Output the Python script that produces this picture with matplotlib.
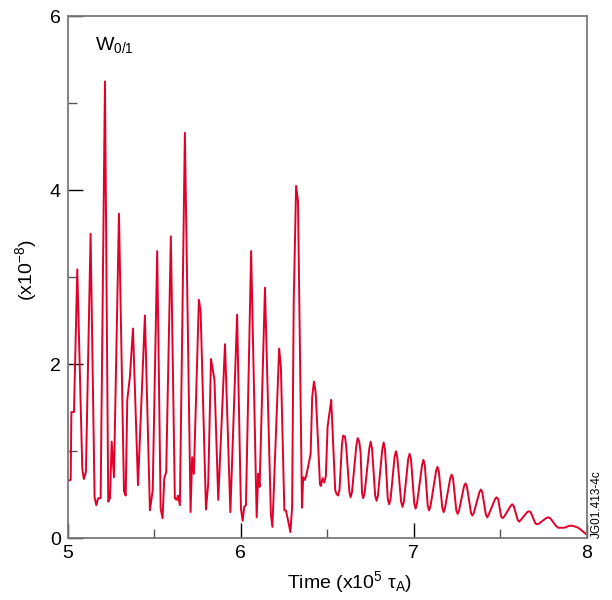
import matplotlib
matplotlib.use("Agg")
import matplotlib.pyplot as plt
from matplotlib.ticker import MultipleLocator

plt.rcParams['font.family'] = ['Liberation Sans', 'DejaVu Sans']
plt.rcParams['mathtext.fontset'] = 'custom'
plt.rcParams['mathtext.rm'] = 'Liberation Sans'
plt.rcParams['mathtext.it'] = 'Liberation Sans:italic'

# Time (x10^5 tau_A) -- bursty early phase
time_early = [5.000, 5.016, 5.020, 5.035, 5.054, 5.083, 5.092, 5.104, 5.131, 5.154,
              5.164, 5.175, 5.189, 5.214, 5.233, 5.243, 5.253, 5.266, 5.295, 5.324,
              5.334, 5.343, 5.358, 5.376, 5.405, 5.445, 5.474, 5.490, 5.516, 5.536,
              5.547, 5.557, 5.568, 5.595, 5.618, 5.628, 5.636, 5.647, 5.676, 5.709,
              5.718, 5.728, 5.757, 5.767, 5.798, 5.811, 5.827, 5.847, 5.869, 5.908,
              5.939, 5.978, 6.000, 6.010, 6.019, 6.029, 6.059, 6.091, 6.100, 6.108,
              6.139, 6.173, 6.182, 6.221, 6.231, 6.251, 6.260, 6.275, 6.286, 6.296,
              6.305, 6.319, 6.330, 6.353, 6.360, 6.370, 6.380, 6.403, 6.412, 6.422,
              6.432, 6.457, 6.462, 6.472, 6.482, 6.491, 6.501, 6.522]
w01_early = [0.66, 0.67, 1.45, 1.45, 3.09, 0.80, 0.68, 0.76, 3.50, 0.47,
             0.38, 0.46, 0.46, 5.25, 0.42, 0.46, 1.11, 0.70, 3.73, 0.54,
             0.49, 1.59, 1.85, 2.41, 0.61, 2.56, 0.32, 0.55, 3.30, 0.34,
             0.23, 0.69, 0.76, 3.47, 0.46, 0.44, 0.49, 0.38, 4.66, 0.30,
             0.93, 0.74, 2.74, 2.61, 0.33, 0.63, 2.06, 1.82, 0.44, 2.23,
             0.30, 2.57, 0.34, 0.20, 0.36, 0.38, 3.30, 0.24, 0.74, 0.59,
             2.88, 0.28, 0.13, 2.18, 1.97, 0.32, 0.32, 0.18, 0.07, 0.36,
             2.70, 4.05, 3.87, 0.35, 0.70, 0.67, 0.74, 0.97, 1.62, 1.80,
             1.68, 0.62, 0.60, 0.69, 0.64, 0.72, 1.28, 1.59]

# Time (x10^5 tau_A) -- decaying oscillation tail
time_tail = [6.545, 6.553, 6.562, 6.570, 6.584, 6.591, 6.601, 6.608,
             6.627, 6.634, 6.642, 6.667, 6.675, 6.684, 6.692,
             6.700, 6.707, 6.715, 6.742, 6.750, 6.758,
             6.776, 6.784, 6.792, 6.817, 6.825, 6.833,
             6.849, 6.857, 6.865, 6.888, 6.896, 6.904,
             6.926, 6.934, 6.942, 6.967, 6.975, 6.983,
             7.002, 7.010, 7.018, 7.047, 7.055, 7.063,
             7.080, 7.088, 7.096, 7.128, 7.136, 7.144,
             7.164, 7.172, 7.180, 7.210, 7.218, 7.226,
             7.245, 7.253, 7.261, 7.290, 7.298, 7.306,
             7.330, 7.338, 7.346, 7.379, 7.387, 7.395,
             7.416, 7.424, 7.432, 7.469, 7.478, 7.487,
             7.504, 7.513, 7.522, 7.559, 7.568, 7.577,
             7.600, 7.609, 7.618, 7.655, 7.665, 7.675,
             7.702, 7.713, 7.724, 7.764, 7.776, 7.788,
             7.822, 7.834, 7.846, 7.870, 7.895, 7.912, 7.930,
             7.950, 7.975, 7.994]
w01_tail = [0.55, 0.51, 0.49, 0.56, 1.08, 1.18, 1.17, 1.07,
            0.53, 0.47, 0.53, 1.06, 1.15, 1.11, 0.98,
            0.52, 0.46, 0.52, 1.03, 1.11, 1.03,
            0.49, 0.43, 0.49, 1.02, 1.10, 1.02,
            0.45, 0.39, 0.45, 0.93, 1.00, 0.93,
            0.42, 0.36, 0.42, 0.91, 0.97, 0.91,
            0.40, 0.34, 0.40, 0.84, 0.90, 0.84,
            0.37, 0.32, 0.37, 0.77, 0.82, 0.77,
            0.35, 0.30, 0.35, 0.69, 0.73, 0.69,
            0.32, 0.28, 0.32, 0.60, 0.63, 0.60,
            0.29, 0.26, 0.29, 0.53, 0.56, 0.53,
            0.27, 0.24, 0.27, 0.45, 0.47, 0.45,
            0.25, 0.23, 0.25, 0.37, 0.39, 0.37,
            0.21, 0.19, 0.21, 0.30, 0.31, 0.30,
            0.17, 0.16, 0.17, 0.23, 0.24, 0.23,
            0.14, 0.12, 0.12, 0.12, 0.14, 0.145, 0.135,
            0.12, 0.08, 0.05]

time = time_early + time_tail
w01 = w01_early + w01_tail

xticks = [5, 6, 7, 8]
yticks = [0, 2, 4, 6]

fig = plt.figure(figsize=(6.12, 6.0), dpi=100)
ax = fig.add_axes([0.111, 0.103, 0.848, 0.870])

ax.plot(time, w01, color='#e0002a', lw=1.4, solid_joinstyle='round')

ax.set_xlim(5, 8)
ax.set_ylim(0, 6)
ax.set_xticks(xticks)
ax.set_yticks(yticks)
ax.xaxis.set_minor_locator(MultipleLocator(0.5))
ax.yaxis.set_minor_locator(MultipleLocator(1))
ax.tick_params(which='major', direction='in', length=11, width=1.0, color='black',
               labelsize=14, pad=5)
ax.tick_params(which='minor', direction='in', length=6.5, width=1.0, color='#555555')

for s in ax.spines.values():
    s.set_color('#7a7a7a')
    s.set_linewidth(1.3)

ax.set_xlabel(r'Time (x10$\mathregular{^{5}}$ τ$\mathregular{_{A}}$)', fontsize=14)
ax.xaxis.set_label_coords(0.543, -0.06)
ax.set_ylabel(r'(x10$\mathregular{^{-8}}$)', fontsize=14)
ax.yaxis.set_label_coords(-0.055, 0.513)

ax.text(0.052, 0.944, r'W$\mathregular{_{0/1}}$', transform=ax.transAxes,
        fontsize=14, va='center', ha='left')

fig.text(0.975, 0.16, 'JG01.413-4c', rotation=90, fontsize=8.5,
         ha='center', va='center')

fig.savefig('out.png', dpi=100)
